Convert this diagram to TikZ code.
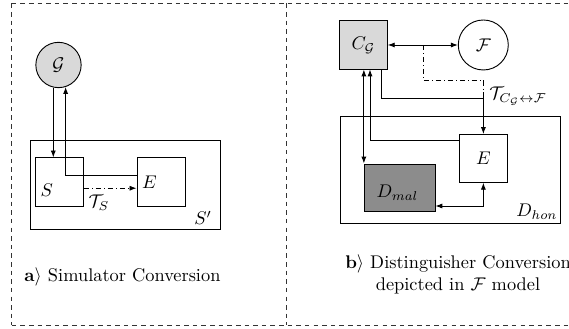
\documentclass[tikz,border=0pt]{standalone}
\usetikzlibrary{arrows.meta}
\begin{document}
\begin{tikzpicture}[x=0.545pt,y=-0.545pt,
  line width=0.5pt,
  >={Latex[length=3.8pt,width=2.8pt]},
  frame/.style={dash pattern=on 2.5pt off 2.2pt, line width=0.45pt, draw=black!80},
  box/.style={draw, rectangle, inner sep=0pt},
  ball/.style={draw, circle, inner sep=0pt},
  dd/.style={dash pattern=on 3pt off 1.5pt on 0.5pt off 1.5pt},
  lbl/.style={inner sep=0pt}
]
\useasboundingbox (0,0) rectangle (569,329);
% outer frame
\draw[frame] (11.7,3.3) -- (575,3.3);
\draw[frame] (11.7,325) -- (575,325);
\draw[frame] (11.7,3.3) -- (11.7,325);
\draw[frame] (286,3.3) -- (286,325);

% ---------- left panel ----------
\node[box, minimum width=103.55pt, minimum height=48.8pt] (Sp) at (125,184.75) {};
\node[ball, fill=black!15, minimum size=24.7pt] (G) at (58.5,65) {$\mathcal{G}$};
\node[box, minimum width=26.2pt, minimum height=26.2pt] (S) at (59.5,182) {};
\node[box, minimum width=26.2pt, minimum height=26.2pt] (E1) at (161,182) {};
\node[lbl] (Slab) at (46.7,190) {$S$};
\node[lbl] (E1lab) at (149.5,182) {$E$};
\node[lbl] (Splab) at (203,218) {$S'$};
\node[lbl] (TSlab) at (99,203) {$\mathcal{T}_S$};

\draw[->] (G.-103) -- (G.-103 |- S.north);
\draw[->] ([yshift=3.4pt]E1.west) -| (G.-72);
\draw[->, dd] ([yshift=-3.4pt]S.east) -- ([yshift=-3.4pt]E1.west);

\node[lbl, anchor=west] (capa) at (24,277) {\textbf{a}$\rangle$ Simulator Conversion};

% ---------- right panel ----------
\node[box, minimum width=120.2pt, minimum height=58.2pt] (Dh) at (450.25,169.9) {};
\node[box, fill=black!15, minimum width=26.05pt, minimum height=26.2pt] (C) at (363.4,45) {$C_{\mathcal{G}}$};
\node[ball, minimum size=27.25pt] (F) at (483.3,45) {$\mathcal{F}$};
\node[box, fill=white, minimum width=26.3pt, minimum height=26.05pt] (E2) at (483.4,158.4) {$E$};
\node[box, fill=black!45, minimum width=38.5pt, minimum height=25.9pt] (Dm) at (399.65,187.75) {};
\node[lbl] (Dmlab) at (397.5,192.5) {$D_{mal}$};
\node[lbl] (Dhlab) at (537,211.5) {$D_{hon}$};
\node[lbl, anchor=west] (Tlab) at (489,96) {$\mathcal{T}_{C_{\mathcal{G}}\leftrightarrow\mathcal{F}}$};

\coordinate (tap) at (423.3,45);
\draw[<->] (C.east) -- (F.west);
\draw[dd] (tap) |- ([yshift=29.4pt]E2.north) -- ([yshift=19.3pt]E2.north);
\draw[->] ([xshift=10pt]C.south) |- ([yshift=19.3pt]E2.north) -- (E2.north);
\draw[<->] (Dm.north west |- C.south) -- (Dm.north west);
\draw[->] ([yshift=10pt]E2.west) -| ([xshift=3.6pt]C.south);
\draw[<->] (E2.south) |- ([yshift=-9.95pt]Dm.east);

\node[lbl, align=center] (capb) at (458,274) {\textbf{b}$\rangle$ Distinguisher Conversion\\ depicted in $\mathcal{F}$ model};
\end{tikzpicture}
\end{document}
